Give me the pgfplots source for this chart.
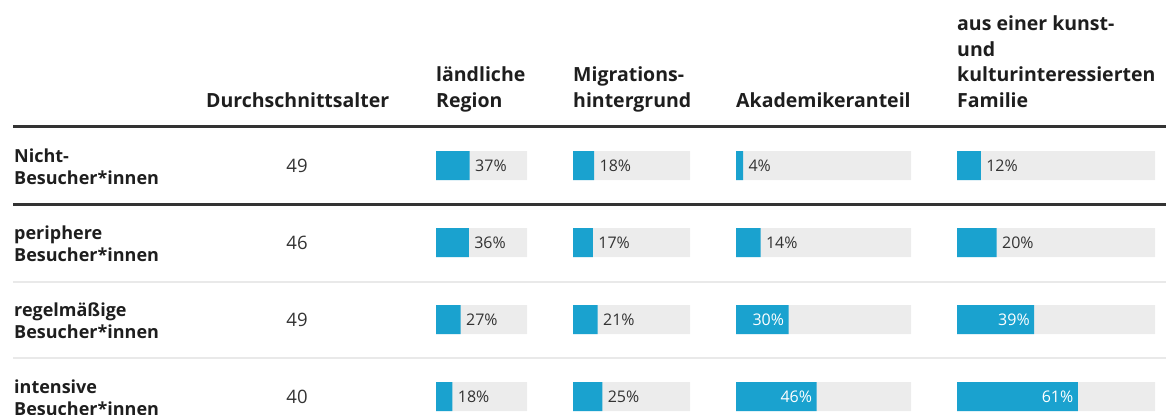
\documentclass[border=0pt]{standalone}
\usepackage{fontspec}
\setmainfont{Open Sans}
\usepackage{pgfplots}
\pgfplotsset{compat=1.18}
\usepackage{pgfplotstable}

\definecolor{barblue}{HTML}{1AA2CF}
\definecolor{bargray}{HTML}{ECECEC}
\definecolor{txt}{HTML}{1E1E1E}
\definecolor{numtxt}{HTML}{333333}
\definecolor{rulecol}{HTML}{333333}
\definecolor{thinrule}{HTML}{E9E9E9}

% row index, average age, shares in percent
\pgfplotstableread{
row age region migr akad kunst
0   49  37     18   4    12
1   46  36     17   14   20
2   49  27     21   30   39
3   40  18     25   46   61
}\datatable

\newcommand\hfont{\fontsize{19.5}{23}\selectfont\bfseries}
\newcommand\rfont{\fontsize{18}{22}\selectfont\bfseries}
\newcommand\pfont{\fontsize{16}{19}\selectfont}

\pgfplotsset{
  colaxis/.style={
    scale only axis, height=415pt, anchor=north west,
    ymin=-2.1494, ymax=3.2403, y dir=reverse,
    hide axis, clip=false,
    /pgf/number format/assume math mode=true,
  },
}

% #1 column name, #2 left edge (px), #3 width (px)
\newcommand\barcol[3]{%
  \begin{axis}[colaxis, at={(#2pt,0pt)}, width=#3pt,
      xmin=0, xmax=100, xbar, bar width=29pt, bar shift=0pt]
    \addplot[draw=none, fill=bargray] table[x expr=100, y=row]{\datatable};
    % label outside the bar
    \addplot[draw=none, fill=barblue, point meta=x,
      x filter/.expression={x*#3/100<42 ? x : nan},
      nodes near coords={\pgfmathprintnumber{\pgfplotspointmeta}\%},
      nodes near coords style={anchor=west, xshift=2pt, text=numtxt, font=\pfont}]
      table[x=#1, y=row]{\datatable};
    % label inside the bar
    \addplot[draw=none, fill=barblue, point meta=x,
      x filter/.expression={x*#3/100<42 ? nan : x},
      nodes near coords={\pgfmathprintnumber{\pgfplotspointmeta}\%},
      nodes near coords style={anchor=east, xshift=-1pt, text=white, font=\pfont}]
      table[x=#1, y=row]{\datatable};
  \end{axis}}

\begin{document}
\begin{tikzpicture}
\useasboundingbox (0,0) rectangle (1168pt,-415pt);
\clip (0,0) rectangle (1168pt,-415pt);

% column headers
\begin{scope}[every node/.style={anchor=base west, inner sep=0pt, text=txt, font=\hfont}]
  \node at (206pt,-107pt) {Durchschnittsalter};
  \node at (436pt,-81.5pt) {ländliche};
  \node at (436pt,-107pt) {Region};
  \node at (573pt,-81.5pt) {Migrations-};
  \node at (573pt,-107pt) {hintergrund};
  \node at (736pt,-107pt) {Akademikeranteil};
  \node at (957pt,-30.5pt) {aus einer kunst-};
  \node at (957pt,-56pt) {und};
  \node at (957pt,-81.5pt) {kulturinteressierten};
  \node at (957pt,-107pt) {Familie};
\end{scope}
% row labels
\begin{scope}[every node/.style={anchor=base west, inner sep=0pt, text=txt, font=\rfont}]
  \node at (14pt,-162pt) {Nicht-};
  \node at (14pt,-184pt) {Besucher*innen};
  \node at (14pt,-239pt) {periphere};
  \node at (14pt,-261.5pt) {Besucher*innen};
  \node at (14pt,-316pt) {regelmäßige};
  \node at (14pt,-338.5pt) {Besucher*innen};
  \node at (14pt,-393pt) {intensive};
  \node at (14pt,-415.5pt) {Besucher*innen};
\end{scope}

% rules
\draw[rulecol, line width=3pt] (13pt,-126.5pt) -- (1166pt,-126.5pt);
\draw[rulecol, line width=3pt] (13pt,-204.5pt) -- (1166pt,-204.5pt);
\draw[thinrule, line width=1.5pt] (13pt,-282pt) -- (1166pt,-282pt);
\draw[thinrule, line width=1.5pt] (13pt,-358pt) -- (1166pt,-358pt);

% average age column
\begin{axis}[colaxis, at={(206pt,0pt)}, width=182pt, xmin=-1, xmax=1]
  \addplot[only marks, mark=none, point meta=\thisrow{age},
    nodes near coords={\pgfmathprintnumber{\pgfplotspointmeta}},
    nodes near coords style={anchor=center, text=numtxt,
      font=\fontsize{18.5}{22}\selectfont}]
    table[x expr=0, y=row]{\datatable};
\end{axis}

\barcol{region}{436}{91}
\barcol{migr}{573}{117}
\barcol{akad}{736}{175}
\barcol{kunst}{957}{198}
\end{tikzpicture}
\end{document}
